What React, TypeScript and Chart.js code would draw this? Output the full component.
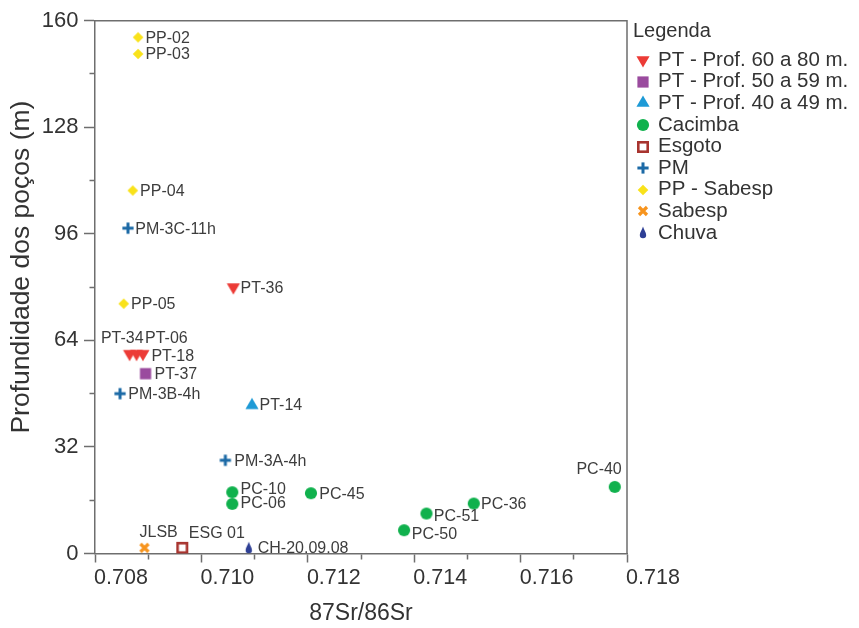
import React, { useEffect, useRef } from 'react';
import { Chart, registerables } from 'chart.js';

Chart.register(...registerables);

// ---------------- data ----------------
const ptDeepNames = ['PT-36', 'PT-34', 'PT-06', 'PT-18'];
const ptDeepX = [0.7106, 0.70865, 0.70878, 0.7089];
const ptDeepY = [80, 60, 60, 60];

const ptMidNames = ['PT-37'];
const ptMidX = [0.70895];
const ptMidY = [54];

const ptShallowNames = ['PT-14'];
const ptShallowX = [0.71095];
const ptShallowY = [44.5];

const cacimbaNames = ['PC-10', 'PC-06', 'PC-45', 'PC-50', 'PC-51', 'PC-36', 'PC-40'];
const cacimbaX = [0.71058, 0.71058, 0.71206, 0.71381, 0.71423, 0.71512, 0.71777];
const cacimbaY = [18.4, 14.9, 18.1, 7, 12, 15, 20];

const esgotoNames = ['ESG 01'];
const esgotoX = [0.70964];
const esgotoY = [1.7];

const pmNames = ['PM-3C-11h', 'PM-3B-4h', 'PM-3A-4h'];
const pmX = [0.70862, 0.70847, 0.71045];
const pmY = [97.7, 48, 28];

const ppNames = ['PP-02', 'PP-03', 'PP-04', 'PP-05'];
const ppX = [0.70881, 0.70881, 0.70871, 0.70854];
const ppY = [155, 150, 109, 75];

const sabespNames = ['JLSB'];
const sabespX = [0.70893];
const sabespY = [1.7];

const chuvaNames = ['CH-20.09.08'];
const chuvaX = [0.71089];
const chuvaY = [1.6];

const seriesLabels = [
  'PT - Prof. 60 a 80 m.',
  'PT - Prof. 50 a 59 m.',
  'PT - Prof. 40 a 49 m.',
  'Cacimba',
  'Esgoto',
  'PM',
  'PP - Sabesp',
  'Sabesp',
  'Chuva',
];

const xTickValues = [0.708, 0.709, 0.71, 0.711, 0.712, 0.713, 0.714, 0.715, 0.716, 0.717, 0.718];
const yMin = 0;
const yMax = 160;
const yStep = 16;

const xTitle = '87Sr/86Sr';
const yTitle = 'Profundidade dos poços (m)';
const legendTitle = 'Legenda';

// ---------------- styles ----------------
const FONT = '"Liberation Sans", Arial, sans-serif';
const axisColor = '#6e6e6e';
const textColor = '#333333';
const labelColor = '#3d3d3d';

type Kind = 'triDown' | 'square' | 'triUp' | 'circle' | 'hollowSquare' | 'plus' | 'diamond' | 'cross' | 'drop';

const seriesStyles: { kind: Kind; color: string }[] = [
  { kind: 'triDown', color: '#EC3B36' },
  { kind: 'square', color: '#9A4B9E' },
  { kind: 'triUp', color: '#1E9AD6' },
  { kind: 'circle', color: '#10B14D' },
  { kind: 'hollowSquare', color: '#A8342F' },
  { kind: 'plus', color: '#1C6AA6' },
  { kind: 'diamond', color: '#F9E21A' },
  { kind: 'cross', color: '#F7941D' },
  { kind: 'drop', color: '#2E3F95' },
];

// label placement relative to the point (pixels), kept apart from the data
const defaultPlacement = { dx: 7.3, dy: 1, align: 'left' as CanvasTextAlign };
const labelPlacement: Record<string, { dx: number; dy: number; align?: CanvasTextAlign }> = {
  'PT-34': { dx: 14, dy: -15, align: 'right' },
  'PT-06': { dx: 8.5, dy: -15 },
  'PT-18': { dx: 8.5, dy: 2.4 },
  'PT-37': { dx: 9, dy: 0.7 },
  'PT-14': { dx: 7.6, dy: 0 },
  'PM-3A-4h': { dx: 9, dy: 1.7 },
  'PM-3B-4h': { dx: 8.3, dy: 0.7 },
  'PC-10': { dx: 8.3, dy: -2.3 },
  'PC-06': { dx: 8.3, dy: 0 },
  'PC-45': { dx: 8.3, dy: 1 },
  'PC-50': { dx: 7.7, dy: 4.5 },
  'PC-51': { dx: 7.4, dy: 3.4 },
  'PC-36': { dx: 7.3, dy: 1 },
  'PC-40': { dx: 7, dy: -17, align: 'right' },
  JLSB: { dx: -5, dy: -15 },
  'ESG 01': { dx: 6.6, dy: -14.4 },
  'CH-20.09.08': { dx: 9, dy: 0 },
};

function makeMarker(kind: Kind, color: string): HTMLCanvasElement {
  const c = document.createElement('canvas');
  c.width = 18;
  c.height = 18;
  const g = c.getContext('2d') as CanvasRenderingContext2D;
  const cx = 9;
  const cy = 9;
  g.fillStyle = color;
  g.strokeStyle = color;
  g.beginPath();
  switch (kind) {
    case 'triDown': {
      const r = 7.6;
      g.moveTo(cx - r * 0.866, cy - r / 2);
      g.lineTo(cx + r * 0.866, cy - r / 2);
      g.lineTo(cx, cy + r);
      g.closePath();
      g.fill();
      break;
    }
    case 'triUp': {
      const r = 7.6;
      g.moveTo(cx - r * 0.866, cy + r / 2);
      g.lineTo(cx + r * 0.866, cy + r / 2);
      g.lineTo(cx, cy - r);
      g.closePath();
      g.fill();
      break;
    }
    case 'square':
      g.fillRect(cx - 5.6, cy - 5.6, 11.2, 11.2);
      break;
    case 'circle':
      g.arc(cx, cy, 6.1, 0, Math.PI * 2);
      g.fill();
      break;
    case 'hollowSquare':
      g.fillStyle = '#ffffff';
      g.fillRect(cx - 5, cy - 5, 10, 10);
      g.lineWidth = 2.6;
      g.strokeRect(cx - 4.7, cy - 4.7, 9.4, 9.4);
      break;
    case 'plus':
      g.fillRect(cx - 5.6, cy - 1.5, 11.2, 3);
      g.fillRect(cx - 1.5, cy - 5.6, 3, 11.2);
      break;
    case 'diamond':
      g.moveTo(cx, cy - 5.3);
      g.lineTo(cx + 5.3, cy);
      g.lineTo(cx, cy + 5.3);
      g.lineTo(cx - 5.3, cy);
      g.closePath();
      g.fill();
      break;
    case 'cross':
      g.lineWidth = 3.2;
      g.lineCap = 'butt';
      g.moveTo(cx - 4, cy - 4);
      g.lineTo(cx + 4, cy + 4);
      g.moveTo(cx + 4, cy - 4);
      g.lineTo(cx - 4, cy + 4);
      g.stroke();
      break;
    case 'drop':
      g.moveTo(cx, cy - 6.5);
      g.bezierCurveTo(cx + 0.8, cy - 3.5, cx + 3.2, cy - 0.5, cx + 3.2, cy + 2);
      g.arc(cx, cy + 2, 3.2, 0, Math.PI);
      g.bezierCurveTo(cx - 3.2, cy - 0.5, cx - 0.8, cy - 3.5, cx, cy - 6.5);
      g.closePath();
      g.fill();
      break;
  }
  return c;
}

const seriesData: { names: string[]; xs: number[]; ys: number[] }[] = [
  { names: ptDeepNames, xs: ptDeepX, ys: ptDeepY },
  { names: ptMidNames, xs: ptMidX, ys: ptMidY },
  { names: ptShallowNames, xs: ptShallowX, ys: ptShallowY },
  { names: cacimbaNames, xs: cacimbaX, ys: cacimbaY },
  { names: esgotoNames, xs: esgotoX, ys: esgotoY },
  { names: pmNames, xs: pmX, ys: pmY },
  { names: ppNames, xs: ppX, ys: ppY },
  { names: sabespNames, xs: sabespX, ys: sabespY },
  { names: chuvaNames, xs: chuvaX, ys: chuvaY },
];

const pointLabelPlugin = {
  id: 'pointLabels',
  afterDatasetsDraw(chart: any) {
    const ctx: CanvasRenderingContext2D = chart.ctx;
    ctx.save();
    ctx.font = `16px ${FONT}`;
    ctx.fillStyle = labelColor;
    ctx.textBaseline = 'middle';
    chart.data.datasets.forEach((ds: any, di: number) => {
      const meta = chart.getDatasetMeta(di);
      meta.data.forEach((el: any, i: number) => {
        const name = ds.names[i];
        const p = { ...defaultPlacement, ...(labelPlacement[name] || {}) };
        ctx.textAlign = p.align || 'left';
        ctx.fillText(name, el.x + p.dx, el.y + p.dy);
      });
    });
    ctx.restore();
  },
};

const framePlugin = {
  id: 'frame',
  afterDraw(chart: any) {
    const { ctx, chartArea } = chart;
    ctx.save();
    ctx.strokeStyle = axisColor;
    ctx.lineWidth = 1.5;
    ctx.beginPath();
    ctx.moveTo(chartArea.left, chartArea.top);
    ctx.lineTo(chartArea.right, chartArea.top);
    ctx.lineTo(chartArea.right, chartArea.bottom);
    ctx.stroke();
    ctx.restore();
  },
};

// y-axis title, drawn slightly above the scale centre as in the reference
const yTitlePlugin = {
  id: 'yTitle',
  afterDraw(chart: any) {
    const { ctx, chartArea } = chart;
    ctx.save();
    ctx.translate(22, (chartArea.top + chartArea.bottom) / 2 - 20);
    ctx.rotate(-Math.PI / 2);
    ctx.fillStyle = textColor;
    ctx.font = `26.5px ${FONT}`;
    ctx.textAlign = 'center';
    ctx.textBaseline = 'middle';
    ctx.fillText(yTitle, 0, 0);
    ctx.restore();
  },
};

const legendPlugin = {
  id: 'sideLegend',
  afterDraw(chart: any) {
    const { ctx, chartArea } = chart;
    const left = chartArea.right + 6;
    ctx.save();
    ctx.fillStyle = textColor;
    ctx.textBaseline = 'middle';
    ctx.textAlign = 'left';
    ctx.font = `20px ${FONT}`;
    ctx.fillText(legendTitle, left, chartArea.top + 11);
    ctx.font = `20.5px ${FONT}`;
    chart.data.datasets.forEach((ds: any, i: number) => {
      const y = chartArea.top + 39.5 + i * 21.6;
      const img = ds.pointStyle as HTMLCanvasElement;
      ctx.drawImage(img, Math.round(left + 10 - img.width / 2), Math.round(y - img.height / 2));
      ctx.fillText(ds.label, left + 25, y);
    });
    ctx.restore();
  },
};

export default function App() {
  const canvasRef = useRef<HTMLCanvasElement | null>(null);

  useEffect(() => {
    if (!canvasRef.current) return;
    const datasets = seriesData.map((s, i) => ({
      label: seriesLabels[i],
      names: s.names,
      data: s.xs.map((x, j) => ({ x, y: s.ys[j] })),
      pointStyle: makeMarker(seriesStyles[i].kind, seriesStyles[i].color),
      pointRadius: 6,
      backgroundColor: seriesStyles[i].color,
      borderColor: seriesStyles[i].color,
      showLine: false,
    }));

    const chart = new Chart(canvasRef.current, {
      type: 'scatter',
      data: { datasets } as any,
      options: {
        animation: false,
        responsive: false,
        layout: { padding: { left: 36.3, top: 20.7, right: 232, bottom: 0.4 } },
        plugins: {
          legend: { display: false },
          tooltip: { enabled: false },
        },
        scales: {
          x: {
            type: 'linear',
            position: 'bottom',
            min: xTickValues[0],
            max: xTickValues[xTickValues.length - 1],
            afterBuildTicks: (scale: any) => {
              scale.ticks = xTickValues.map((value) => ({ value }));
            },
            ticks: {
              autoSkip: false,
              maxRotation: 0,
              minRotation: 0,
              labelOffset: 26,
              padding: 3,
              color: textColor,
              font: { family: FONT, size: 21.5 },
              callback: (v: any, i: number) => (i % 2 === 0 ? Number(v).toFixed(3) : ''),
            },
            grid: {
              display: true,
              drawOnChartArea: false,
              drawTicks: true,
              tickLength: 9,
              tickWidth: 1.5,
              tickColor: axisColor,
              tickBorderDash: (c: any) => (c.index % 2 === 0 ? [] : [5, 5]),
            },
            border: { display: true, color: axisColor, width: 1.5 },
            title: {
              display: true,
              text: xTitle,
              color: textColor,
              font: { family: FONT, size: 23 },
              padding: { top: 5.7, bottom: 0 },
            },
          },
          y: {
            type: 'linear',
            position: 'left',
            min: yMin,
            max: yMax,
            ticks: {
              stepSize: yStep,
              padding: 5.5,
              color: textColor,
              font: { family: FONT, size: 22 },
              callback: (v: any) => (Number(v) % 32 === 0 ? String(v) : ''),
            },
            grid: {
              display: true,
              drawOnChartArea: false,
              drawTicks: true,
              tickLength: 11,
              tickWidth: 1.5,
              tickColor: axisColor,
              tickBorderDash: (c: any) =>
                c.tick && c.tick.value % 32 === 0 ? [] : [0, 5.5, 5.5, 0],
            },
            border: { display: true, color: axisColor, width: 1.5 },
            title: { display: false, text: yTitle },
          },
        },
      } as any,
      plugins: [pointLabelPlugin, framePlugin, yTitlePlugin, legendPlugin],
    });
    return () => chart.destroy();
  }, []);

  return (
    <div style={{ position: 'absolute', left: 0, top: 0, width: 859, height: 628, background: '#ffffff' }}>
      <canvas ref={canvasRef} width={859} height={628} style={{ display: 'block' }} />
    </div>
  );
}
